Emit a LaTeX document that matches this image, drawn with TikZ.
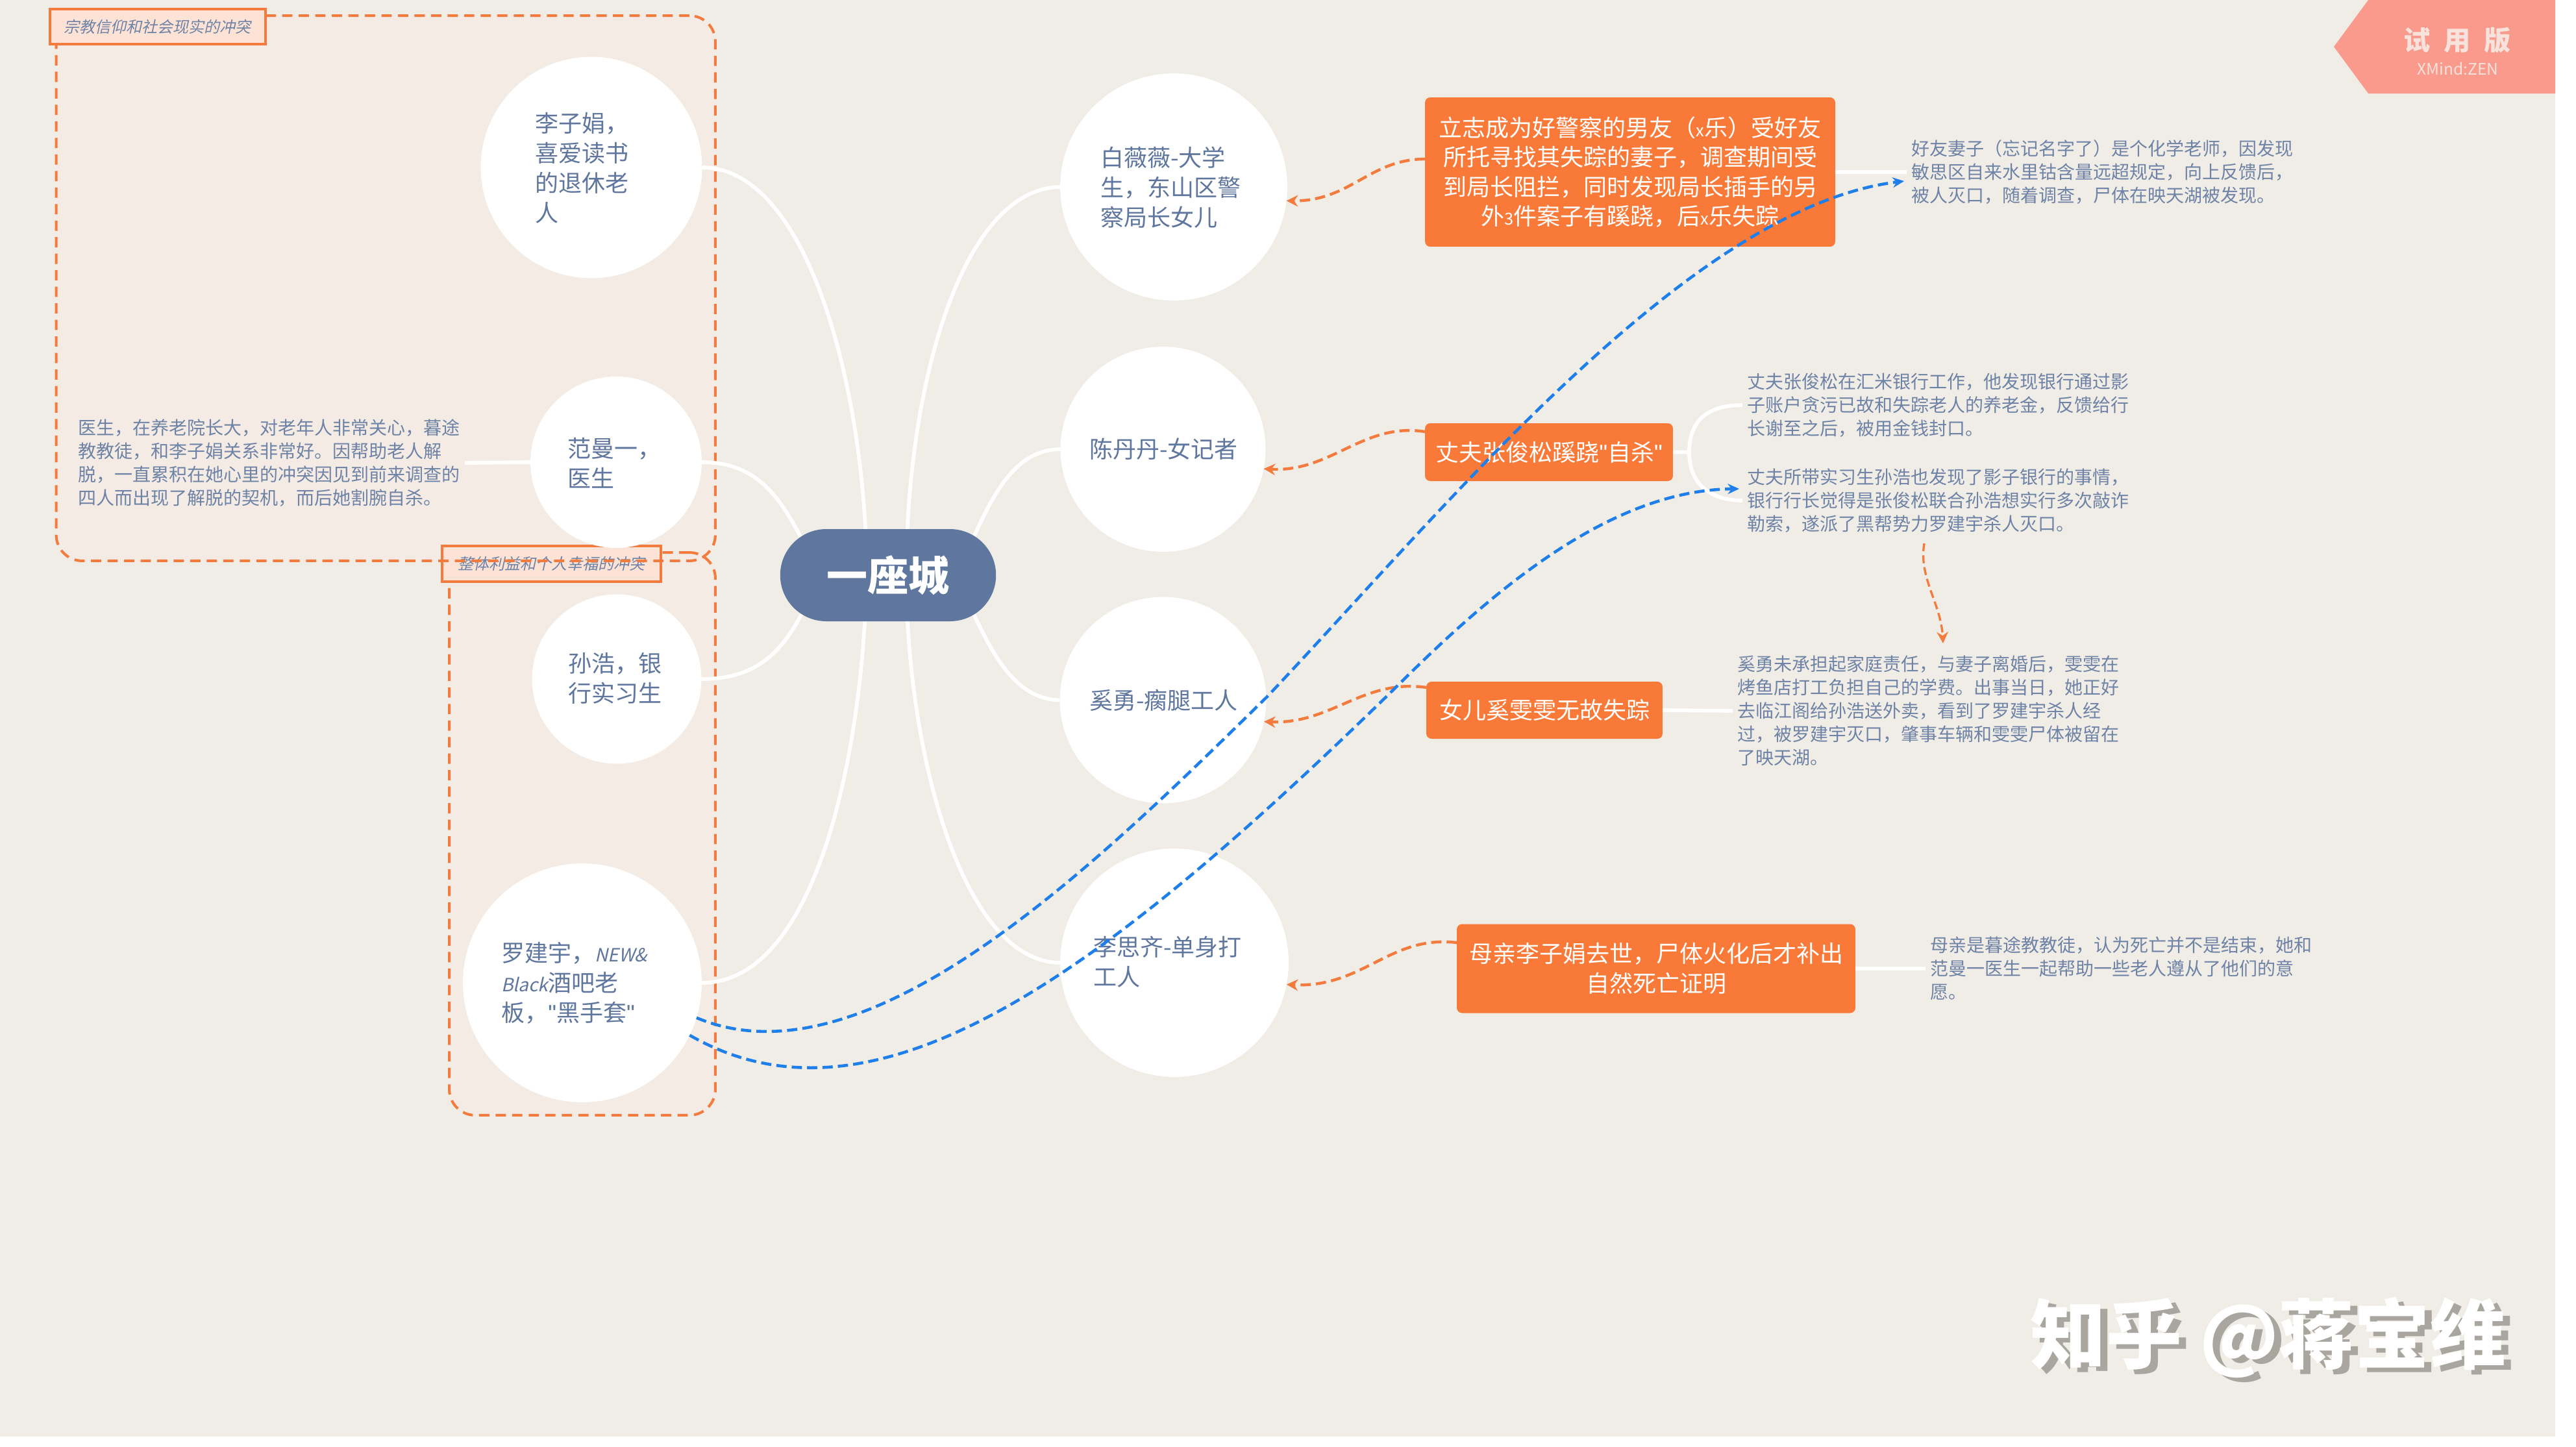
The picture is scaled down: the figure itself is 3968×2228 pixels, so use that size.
\documentclass[tikz,border=0pt]{standalone}
\usepackage{fontspec}
\usetikzlibrary{arrows.meta}
\setmainfont{Noto Sans CJK SC}
\newfontfamily\slantcjk[FakeSlant=0.22]{Noto Sans CJK SC}
\newfontfamily\latinpart{Liberation Sans}
\newcommand{\qt}{{\latinpart\char34 }}
\newcommand{\tinylat}[1]{{\fontsize{14.5pt}{25pt}\selectfont #1}}
\newcommand{\handlat}[1]{{\fontsize{16pt}{26.2pt}\slantcjk #1}}
\definecolor{bgc}{HTML}{F0ECE6}
\definecolor{grpc}{HTML}{F3EBE4}
\definecolor{inkc}{HTML}{5F769E}
\definecolor{notec}{HTML}{6E83A6}
\definecolor{orangec}{HTML}{F97A38}
\definecolor{dashc}{HTML}{F27B3D}
\definecolor{labelc}{HTML}{FCE3D6}
\definecolor{bluec}{HTML}{1E7FEA}
\definecolor{pinkc}{HTML}{FA9A8C}
\definecolor{markc}{HTML}{F7E3DB}
\definecolor{shadowc}{HTML}{A9A6A0}
\pgfdeclarelayer{grouplayer}
\pgfdeclarelayer{linklayer}
\pgfsetlayers{grouplayer,linklayer,main}
\tikzset{
  x=0.02cm,y=-0.02cm,
  circlenode/.style={circle,fill=white,inner sep=0pt,outer sep=0pt},
  circletext/.style={anchor=west,inner sep=0pt,align=left,text=inkc,font=\fontsize{20.49pt}{26.2pt}\selectfont},
  topicbox/.style={rectangle,rounded corners=0.16cm,fill=orangec,text=white,align=center,inner sep=0pt,outer sep=0pt,font=\fontsize{20.49pt}{25.9pt}\selectfont},
  notetext/.style={anchor=west,inner sep=0.14cm,align=left,text=notec,font=\fontsize{15.94pt}{20.5pt}\selectfont},
  grouparea/.style={rectangle,rounded corners=0.8cm,fill=grpc,inner sep=0pt,outer sep=0pt},
  groupline/.style={rectangle,rounded corners=0.8cm,draw=dashc,line width=2.3pt,dash pattern=on 9pt off 5.5pt,inner sep=0pt,outer sep=0pt},
  grouplabel/.style={rectangle,draw=dashc,line width=2.3pt,fill=labelc,text=notec,inner sep=0pt,outer sep=0pt,font=\fontsize{13.66pt}{16pt}\slantcjk},
  whitelink/.style={draw=white,line width=3.3pt},
  orangelink/.style={draw=dashc,line width=2.5pt,dash pattern=on 9pt off 4.5pt,-{Stealth[length=10pt,width=10pt]}},
  bluelink/.style={draw=bluec,line width=2.6pt,dash pattern=on 9pt off 4.5pt,-{Stealth[length=10pt,width=9pt]}},
}
\begin{document}
\begin{tikzpicture}
\useasboundingbox (0,0) rectangle (3968,2228);
\begin{pgfonlayer}{grouplayer}
\fill[white] (0,0) rectangle (3968,2228);
\fill[bgc] (0,0) rectangle (3936,2213);
\node[grouparea,minimum width=20.31cm,minimum height=16.8cm] (grpA) at (594.25,444) {};
\node[grouparea,groupline,fill=grpc,minimum width=8.2cm,minimum height=17.34cm] (grpB) at (897,1284.5) {};
\node[grouplabel,minimum width=6.74cm,minimum height=1.1cm] (labB) at (849.5,868.5) {整体利益和个人幸福的冲突};
\node[groupline,minimum width=20.31cm,minimum height=16.8cm] (grpAline) at (594.25,444) {};
\node[grouplabel,minimum width=6.65cm,minimum height=1.08cm] (labA) at (242.75,41) {宗教信仰和社会现实的冲突};
\end{pgfonlayer}
% main nodes
\node[rectangle,rounded corners=1.42cm,fill=inkc,text=white,minimum width=6.65cm,minimum height=2.84cm,inner sep=0pt,font=\fontsize{35.85pt}{40pt}\selectfont\bfseries] (city) at (1368,886) {一座城};
\node[circlenode,minimum size=6.82cm] (lizi) at (911,258) {};
\node[circlenode,minimum size=5.28cm] (fan) at (949,712) {};
\node[circlenode,minimum size=5.22cm] (sun) at (950,1046) {};
\node[circlenode,minimum size=7.36cm] (luo) at (897,1514) {};
\node[circlenode,minimum size=7cm] (bai) at (1808,288) {};
\node[circlenode,minimum size=6.32cm] (chen) at (1791.5,692) {};
\node[circlenode,minimum size=6.36cm] (xi) at (1791.5,1078.5) {};
\node[circlenode,minimum size=7.04cm] (lisi) at (1809,1483) {};
% circle texts
\node[circletext] (liziT) at (824,259) {李子娟，\\喜爱读书\\的退休老\\人};
\node[circletext] (fanT) at (874,713) {范曼一，\\医生};
\node[circletext] (sunT) at (875,1045) {孙浩，银\\行实习生};
\node[circletext] (luoT) at (772,1514) {罗建宇，\handlat{NEW\&}\\\handlat{Black}酒吧老\\板，\qt 黑手套\qt};
\node[circletext] (baiT) at (1695,289) {白薇薇-大学\\生，东山区警\\察局长女儿};
\node[circletext] (chenT) at (1678,692) {陈丹丹-女记者};
\node[circletext] (xiT) at (1678,1079) {奚勇-瘸腿工人};
\node[circletext] (lisiT) at (1684,1482) {李思齐-单身打\\工人};
% topic boxes
\node[topicbox,minimum width=12.64cm,minimum height=4.6cm] (boxA) at (2511,265) {立志成为好警察的男友（\tinylat{x}乐）受好友\\所托寻找其失踪的妻子，调查期间受\\到局长阻拦，同时发现局长插手的另\\外\tinylat{3}件案子有蹊跷，后\tinylat{x}乐失踪};
\node[topicbox,minimum width=7.64cm,minimum height=1.78cm] (boxB) at (2386,696.5) {丈夫张俊松蹊跷\qt 自杀\qt};
\node[topicbox,minimum width=7.28cm,minimum height=1.76cm] (boxC) at (2379,1094) {女儿奚雯雯无故失踪};
\node[topicbox,minimum width=12.28cm,minimum height=2.74cm] (boxD) at (2551,1492) {母亲李子娟去世，尸体火化后才补出\\自然死亡证明};
% notes
\node[notetext] (noteF) at (113,713) {医生，在养老院长大，对老年人非常关心，暮途\\教教徒，和李子娟关系非常好。因帮助老人解\\脱，一直累积在她心里的冲突因见到前来调查的\\四人而出现了解脱的契机，而后她割腕自杀。};
\node[notetext] (noteA) at (2937,265) {好友妻子（忘记名字了）是个化学老师，因发现\\敏思区自来水里钴含量远超规定，向上反馈后，\\被人灭口，随着调查，尸体在映天湖被发现。};
\node[notetext] (noteBa) at (2684,624) {丈夫张俊松在汇米银行工作，他发现银行通过影\\子账户贪污已故和失踪老人的养老金，反馈给行\\长谢至之后，被用金钱封口。};
\node[notetext] (noteBb) at (2684,771) {丈夫所带实习生孙浩也发现了影子银行的事情，\\银行行长觉得是张俊松联合孙浩想实行多次敲诈\\勒索，遂派了黑帮势力罗建宇杀人灭口。};
\node[notetext] (noteC) at (2669,1095) {奚勇未承担起家庭责任，与妻子离婚后，雯雯在\\烤鱼店打工负担自己的学费。出事当日，她正好\\去临江阁给孙浩送外卖，看到了罗建宇杀人经\\过，被罗建宇灭口，肇事车辆和雯雯尸体被留在\\了映天湖。};
\node[notetext] (noteD) at (2966,1492) {母亲是暮途教教徒，认为死亡并不是结束，她和\\范曼一医生一起帮助一些老人遵从了他们的意\\愿。};
% white links, behind the nodes
\coordinate (cityL) at (1335,886);
\coordinate (cityR) at (1396,886);
\coordinate (cityTL) at (1245,850);
\coordinate (cityTR) at (1490,850);
\coordinate (cityBL) at (1245,925);
\coordinate (cityBR) at (1490,925);
\coordinate (brk) at (2602,696.5);
\begin{pgfonlayer}{linklayer}
\draw[whitelink] (lizi.east) .. controls (1250,258) and (1335,620) .. (cityL);
\draw[whitelink] (fan.east) .. controls (1170,712) and (1205,770) .. (cityTL);
\draw[whitelink] (sun.east) .. controls (1170,1046) and (1210,1000) .. (cityBL);
\draw[whitelink] (luo.east) .. controls (1260,1514) and (1330,1150) .. (cityL);
\draw[whitelink] (bai.west) .. controls (1480,290) and (1396,600) .. (cityR);
\draw[whitelink] (chen.west) .. controls (1560,692) and (1525,770) .. (cityTR);
\draw[whitelink] (xi.west) .. controls (1560,1077) and (1525,1000) .. (cityBR);
\draw[whitelink] (lisi.west) .. controls (1480,1482) and (1396,1150) .. (cityR);
\draw[whitelink] (noteF.east) -- (fan.west);
\draw[whitelink] (boxA.east) -- (noteA.west);
\draw[whitelink] (boxC.east) -- (noteC.west);
\draw[whitelink] (boxD.east) -- (noteD.west);
\draw[whitelink] (boxB.east) -- (brk) .. controls (2602,640) and (2640,624) .. (noteBa.west);
\draw[whitelink] (brk) .. controls (2602,750) and (2640,771) .. (noteBb.west);
\end{pgfonlayer}
% orange relations
\coordinate (oA) at (2195,245);
\coordinate (oB) at (2195,665);
\coordinate (oC) at (2197,1059);
\coordinate (oD) at (2244,1452);
\draw[orangelink] (oA) .. controls (2110,245) and (2080,310) .. (bai.-7);
\draw[orangelink] (oB) .. controls (2100,650) and (2050,728) .. (chen.-11);
\draw[orangelink] (oC) .. controls (2100,1045) and (2050,1116) .. (xi.-12);
\draw[orangelink] (oD) .. controls (2140,1440) and (2100,1522) .. (lisi.-11);
\coordinate (oEs) at (2964,837);
\coordinate (oEe) at (2993,991);
\draw[orangelink,line width=1.9pt,dash pattern=on 7pt off 3.5pt] (oEs) .. controls (2955,890) and (2990,930) .. (oEe);
% blue relations
\coordinate (bmA) at (1952,1073);
\coordinate (bmB) at (2156,1053);
\coordinate (bEndA) at (2933,279);
\coordinate (bEndB) at (2679,753);
\draw[bluelink] (luo.-17) .. controls (1340,1680) and (1700,1320) .. (bmA) .. controls (2220,790) and (2600,320) .. (bEndA);
\draw[bluelink] (luo.-26) .. controls (1350,1760) and (1700,1500) .. (bmB) .. controls (2300,910) and (2480,755) .. (bEndB);
% trial badge
\fill[pinkc] (3648,0) -- (3936,0) -- (3936,144) -- (3648,144) -- (3595,72) -- cycle;
\node[inner sep=0pt,text=markc,font=\fontsize{23.5pt}{26pt}\selectfont\bfseries] (badgeA) at (3785,62) {试\hspace{0.42cm}用\hspace{0.42cm}版};
\node[inner sep=0pt,text=markc,font=\fontsize{14pt}{16pt}\selectfont] (badgeB) at (3786,106) {XMind:ZEN};
% watermark
\node[inner sep=0pt,text=shadowc,font=\fontsize{66.5pt}{70pt}\selectfont\bfseries] (markS) at (3505,2067) {知乎 @蒋宝维};
\node[inner sep=0pt,text=white,font=\fontsize{66.5pt}{70pt}\selectfont\bfseries] (markT) at (3494,2060) {知乎 @蒋宝维};
\end{tikzpicture}
\end{document}
